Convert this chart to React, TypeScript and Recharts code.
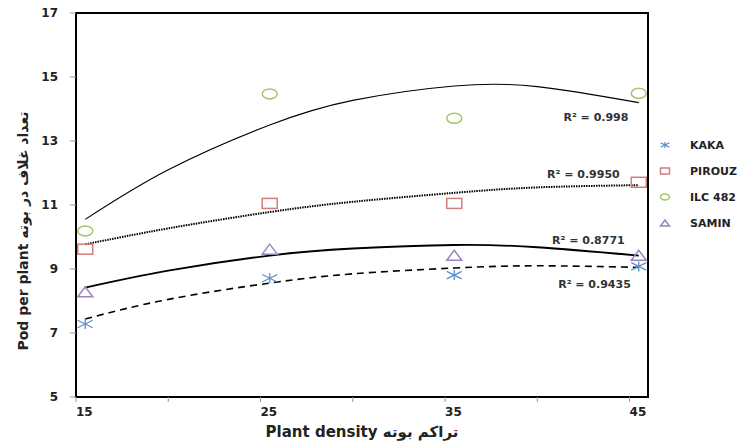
import { ComposedChart, Line, Scatter, XAxis, YAxis, ReferenceArea, ReferenceDot } from 'recharts';

const density = [15.5, 25.5, 35.5, 45.5];
const kaka = [7.28, 8.71, 8.81, 9.08];
const pirouz = [9.62, 11.05, 11.05, 11.71];
const ilc482 = [10.19, 14.47, 13.71, 14.49];
const samin = [8.29, 9.62, 9.43, 9.43];

// fitted trend curves (2nd order), sampled from the figure
const trendX = [15.5, 20, 25.5, 30, 35.5, 40, 45.5];
const kakaTrend = [7.44, 8.05, 8.56, 8.85, 9.03, 9.1, 9.05];
const pirouzTrend = [9.77, 10.27, 10.78, 11.1, 11.38, 11.55, 11.62];
const ilcTrend = [10.55, 12.1, 13.5, 14.27, 14.72, 14.7, 14.2];
const saminTrend = [8.42, 8.95, 9.42, 9.64, 9.75, 9.68, 9.42];

const rSquared = ['R² = 0.9435', 'R² = 0.9950', 'R² = 0.998', 'R² = 0.8771'];

const xTicks = [15, 20, 25, 30, 35, 40, 45];
const xLabels = [15, 25, 35, 45];
const yTicks = [5, 7, 9, 11, 13, 15, 17];

const toPoints = (xs: number[], ys: number[]) => xs.map((x, i) => ({ x, y: ys[i] }));

const FONT = '"DejaVu Sans", Verdana, sans-serif';
const TEXT = '#222';

function Marker({ kind, cx, cy, w, h, color }: { kind: string; cx: number; cy: number; w: number; h: number; color: string }) {
  const hw = w / 2;
  const hh = h / 2;
  if (kind === 'star') {
    return (
      <g stroke={color} strokeWidth={1.3}>
        <line x1={cx} y1={cy - hh} x2={cx} y2={cy + hh} />
        <line x1={cx - hw} y1={cy - hh * 0.75} x2={cx + hw} y2={cy + hh * 0.75} />
        <line x1={cx - hw} y1={cy + hh * 0.75} x2={cx + hw} y2={cy - hh * 0.75} />
      </g>
    );
  }
  if (kind === 'square') {
    return <rect x={cx - hw} y={cy - hh} width={w} height={h} fill="none" stroke={color} strokeWidth={1.5} />;
  }
  if (kind === 'circle') {
    return <ellipse cx={cx} cy={cy} rx={hw} ry={hh} fill="none" stroke={color} strokeWidth={1.5} />;
  }
  return (
    <polygon
      points={`${cx - hw},${cy + hh} ${cx + hw},${cy + hh} ${cx},${cy - hh}`}
      fill="none"
      stroke={color}
      strokeWidth={1.5}
    />
  );
}

const series = [
  { name: 'KAKA', kind: 'star', color: '#5E8FCB', values: kaka, trend: kakaTrend, dash: '7 5', width: 1.6 },
  { name: 'PIROUZ', kind: 'square', color: '#D57C7A', values: pirouz, trend: pirouzTrend, dash: '1.5 1', width: 2 },
  { name: 'ILC 482', kind: 'circle', color: '#A6C46C', values: ilc482, trend: ilcTrend, dash: undefined, width: 1.1 },
  { name: 'SAMIN', kind: 'triangle', color: '#9A84BE', values: samin, trend: saminTrend, dash: undefined, width: 1.8 },
];

const rPos = [
  { x: 43.1, y: 8.53 },
  { x: 42.5, y: 11.95 },
  { x: 43.18, y: 13.76 },
  { x: 42.77, y: 9.9 },
];

const XTick = (props: any) => {
  const { x, y, payload } = props;
  if (!xLabels.includes(payload.value)) return null;
  return (
    <text x={x} y={y} dy="0.75em" textAnchor="start" fontFamily={FONT} fontWeight="bold" fontSize={12} fill={TEXT}>
      {payload.value}
    </text>
  );
};

const YTick = (props: any) => {
  const { x, y, payload } = props;
  return (
    <text x={x} y={y} dy="0.35em" textAnchor="end" fontFamily={FONT} fontWeight="bold" fontSize={12} fill={TEXT}>
      {payload.value}
    </text>
  );
};

export default function App() {
  return (
    <div style={{ position: 'absolute', left: 0, top: 0, width: 745, height: 441, background: '#fff' }}>
      <ComposedChart width={745} height={441} margin={{ top: 13, right: 97, bottom: 14, left: 16 }}>
        <XAxis
          type="number"
          dataKey="x"
          domain={[15, 46]}
          ticks={xTicks}
          allowDataOverflow
          axisLine={false}
          tickLine={{ stroke: '#999' }}
          tickSize={5}
          tickMargin={5}
          height={30}
          tick={<XTick />}
        />
        <YAxis
          type="number"
          dataKey="y"
          domain={[5, 17]}
          ticks={yTicks}
          allowDataOverflow
          axisLine={false}
          tickLine={{ stroke: '#999' }}
          tickSize={6}
          tickMargin={12}
          width={60}
          tick={<YTick />}
        />
        {series.map((s) => (
          <Line
            key={`t-${s.name}`}
            data={toPoints(trendX, s.trend)}
            dataKey="y"
            type="natural"
            stroke="#000"
            strokeWidth={s.width}
            strokeDasharray={s.dash}
            dot={false}
            activeDot={false}
            legendType="none"
            isAnimationActive={false}
          />
        ))}
        {series.map((s) => (
          <Scatter
            key={`p-${s.name}`}
            name={s.name}
            data={toPoints(density, s.values)}
            dataKey="y"
            isAnimationActive={false}
            shape={(p: any) => <Marker kind={s.kind} cx={p.cx} cy={p.cy} w={15} h={10} color={s.color} />}
          />
        ))}
        {rSquared.map((t, i) => (
          <ReferenceDot
            key={t}
            x={rPos[i].x}
            y={rPos[i].y}
            r={0}
            ifOverflow="visible"
            shape={(p: any) => (
              <text x={p.cx} y={p.cy} dy="0.35em" textAnchor="middle" fontFamily={FONT} fontWeight="bold" fontSize={11} fill="#333">
                {t}
              </text>
            )}
          />
        ))}
        <ReferenceArea x1={15} x2={46} y1={5} y2={17} fill="none" stroke="#000" strokeWidth={2} ifOverflow="visible" />
      </ComposedChart>
      <svg width={745} height={441} style={{ position: 'absolute', left: 0, top: 0, pointerEvents: 'none' }}>
        <text x={362} y={437} textAnchor="middle" fontFamily={FONT} fontWeight="bold" fontSize={15} fill={TEXT}>
          Plant density  تراکم بوته
        </text>
        <text
          x={23}
          y={231}
          transform="rotate(-90 23 231)"
          dy="0.35em"
          textAnchor="middle"
          fontFamily={FONT}
          fontWeight="bold"
          fontSize={14}
          fill={TEXT}
        >
          Pod per plant  تعداد غلاف در بوته
        </text>
        {series.map((s, i) => (
          <g key={s.name}>
            <Marker kind={s.kind} cx={665} cy={145 + i * 26} w={9} h={6} color={s.color} />
            <text x={690} y={145 + i * 26} dy="0.35em" fontFamily={FONT} fontWeight="bold" fontSize={11} fill={TEXT}>
              {s.name}
            </text>
          </g>
        ))}
      </svg>
    </div>
  );
}
